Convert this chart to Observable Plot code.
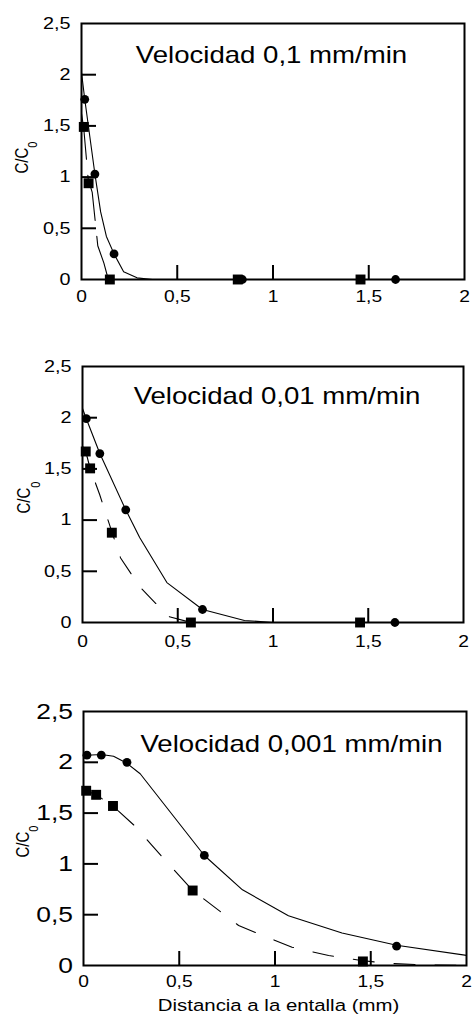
<!DOCTYPE html>
<html>
<head>
<meta charset="utf-8">
<script src="https://cdn.jsdelivr.net/npm/d3@7"></script>
<script src="https://cdn.jsdelivr.net/npm/@observablehq/plot@0.6"></script>
<style>
  html, body { margin: 0; padding: 0; background: #fff; }
  #chart svg { display: block; overflow: visible; }
</style>
</head>
<body>
<div id="chart"></div>
<script>
// ---- tick labels / text ----
const xTickLabels = [0, 0.5, 1, 1.5, 2];
const yTickLabels = [0, 0.5, 1, 1.5, 2, 2.5];
const xTickMarks = [0.5, 1, 1.5];
const yTickMarks = [0.5, 1, 1.5, 2];
const titles = ["Velocidad 0,1 mm/min", "Velocidad 0,01 mm/min", "Velocidad 0,001 mm/min"];
const xAxisTitle = "Distancia a la entalla (mm)";
const yAxisTitle = "C/C";
const yAxisSub = "0";

// ---- panel 1: 0,1 mm/min ----
const p1CircX = [0.017, 0.07, 0.17, 0.84, 1.64];
const p1CircY = [1.76, 1.03, 0.25, 0, 0];
const p1SqX = [0.012, 0.037, 0.148, 0.816, 1.457];
const p1SqY = [1.49, 0.94, 0, 0, 0];
const p1SolidX = [0, 0.017, 0.07, 0.1, 0.13, 0.17, 0.22, 0.29, 0.37];
const p1SolidY = [2.02, 1.76, 1.03, 0.66, 0.42, 0.25, 0.075, 0.016, 0.0];
const p1DashX = [0, 0.012, 0.035, 0.056, 0.085, 0.117, 0.14];
const p1DashY = [1.62, 1.47, 0.98, 0.85, 0.33, 0.16, 0.0];

// ---- panel 2: 0,01 mm/min ----
const p2CircX = [0.02, 0.091, 0.227, 0.63, 1.64];
const p2CircY = [1.99, 1.65, 1.10, 0.127, 0];
const p2SqX = [0.017, 0.04, 0.154, 0.569, 1.457];
const p2SqY = [1.67, 1.505, 0.877, 0, 0];
const p2SolidX = [0, 0.02, 0.091, 0.227, 0.30, 0.443, 0.63, 0.85, 1.0];
const p2SolidY = [2.09, 1.99, 1.65, 1.10, 0.83, 0.39, 0.127, 0.02, 0.0];
const p2DashX = [0, 0.017, 0.04, 0.09, 0.155, 0.2, 0.3, 0.45, 0.57];
const p2DashY = [1.72, 1.67, 1.505, 1.25, 0.88, 0.63, 0.35, 0.06, 0.0];

// ---- panel 3: 0,001 mm/min ----
const p3CircX = [0.018, 0.093, 0.227, 0.631, 1.635];
const p3CircY = [2.07, 2.07, 2.0, 1.083, 0.19];
const p3SqX = [0.014, 0.066, 0.154, 0.57, 1.459];
const p3SqY = [1.72, 1.68, 1.57, 0.738, 0.04];
const p3SolidX = [0, 0.018, 0.093, 0.157, 0.227, 0.296, 0.631, 0.83, 1.07, 1.35, 1.635, 2.0];
const p3SolidY = [2.07, 2.07, 2.077, 2.06, 1.99, 1.887, 1.083, 0.745, 0.49, 0.32, 0.2, 0.1];
const p3DashX = [0, 0.014, 0.066, 0.154, 0.27, 0.354, 0.444, 0.57, 0.81, 0.906, 0.993, 1.089, 1.28, 1.45, 1.6, 1.76, 2.0];
const p3DashY = [1.73, 1.72, 1.68, 1.57, 1.37, 1.19, 1.0, 0.738, 0.394, 0.318, 0.253, 0.18, 0.098, 0.049, 0.02, 0.007, 0.0];

const fmt = d => String(d).replace(".", ",");
const FONT = "'Liberation Sans', Arial, Helvetica, sans-serif";
const STRETCH = 1.2;
const W = 473;

const panels = [
  {title: titles[0], circX: p1CircX, circY: p1CircY, sqX: p1SqX, sqY: p1SqY,
   solidX: p1SolidX, solidY: p1SolidY, dashX: p1DashX, dashY: p1DashY,
   height: 330, mt: 23, mb: 51, ml: 81, mr: 9, yFont: 16.5, xFont: 16, yPad: 11, xPad: 11,
   titleDx: -1.5, titleDy: 39, labelDx: -54, labelDy: 6, dash: "46,16", xTitle: false},
  {title: titles[1], circX: p2CircX, circY: p2CircY, sqX: p2SqX, sqY: p2SqY,
   solidX: p2SolidX, solidY: p2SolidY, dashX: p2DashX, dashY: p2DashY,
   height: 340, mt: 36, mb: 48, ml: 82, mr: 10, yFont: 16.5, xFont: 16, yPad: 11, xPad: 13,
   titleDx: 4, titleDy: 37.5, labelDx: -52.5, labelDy: 3, dash: "20,19", xTitle: false},
  {title: titles[2], circX: p3CircX, circY: p3CircY, sqX: p3SqX, sqY: p3SqY,
   solidX: p3SolidX, solidY: p3SolidY, dashX: p3DashX, dashY: p3DashY,
   height: 344, mt: 41, mb: 49, ml: 83, mr: 7, yFont: 22, xFont: 16, yPad: 10.5, xPad: 10,
   titleDx: 16.5, titleDy: 40.5, labelDx: -55, labelDy: 3, dash: "21,20", xTitle: true}
];

function stretchText(svg, s) {
  svg.querySelectorAll("text").forEach(t => {
    const tr = t.getAttribute("transform");
    if (tr && /^translate\(/.test(tr)) {
      t.setAttribute("transform", tr.replace(/^(translate\([^)]*\))/, `$1 scale(${s},1)`));
    }
  });
}

const root = document.getElementById("chart");
for (const p of panels) {
  const fw = W - p.ml - p.mr;
  const fh = p.height - p.mt - p.mb;
  const marks = [
    Plot.line(p.solidY, {x: p.solidX, y: p.solidY, stroke: "black", strokeWidth: 1.1}),
    Plot.line(p.dashY, {x: p.dashX, y: p.dashY, stroke: "black", strokeWidth: 1.1, strokeDasharray: p.dash}),
    Plot.tickY(yTickMarks, {y: d => d, insetRight: fw - 15, stroke: "black", strokeWidth: 2}),
    Plot.tickX(xTickMarks, {x: d => d, insetTop: fh - 14, stroke: "black", strokeWidth: 2}),
    Plot.frame({stroke: "black", strokeWidth: 2}),
    Plot.axisY(yTickLabels, {tickSize: 0, tickPadding: p.yPad, tickFormat: fmt, fontSize: p.yFont, label: null}),
    Plot.axisX(xTickLabels, {tickSize: 0, tickPadding: p.xPad, tickFormat: fmt, fontSize: p.xFont, label: null}),
    Plot.dot(p.circY, {x: p.circX, y: p.circY, r: 4.4, fill: "black"}),
    Plot.dot(p.sqY, {x: p.sqX, y: p.sqY, r: 5.6, symbol: "square", fill: "black"}),
    Plot.text([p.title], {frameAnchor: "top", text: d => d, dx: p.titleDx, dy: p.titleDy,
      lineAnchor: "bottom", textAnchor: "middle", fontSize: 23, fill: "black"}),
    Plot.text([yAxisTitle], {frameAnchor: "left", text: d => d, dx: p.labelDx, dy: p.labelDy,
      rotate: -90, lineAnchor: "bottom", textAnchor: "middle", fontSize: 15, fill: "black"})
  ];
  if (p.xTitle) {
    marks.push(Plot.text([xAxisTitle], {frameAnchor: "bottom", text: d => d, dx: 3.5, dy: 45,
      lineAnchor: "bottom", textAnchor: "middle", fontSize: 17, fill: "black"}));
  }
  const svg = Plot.plot({
    width: W, height: p.height,
    marginTop: p.mt, marginBottom: p.mb, marginLeft: p.ml, marginRight: p.mr,
    x: {domain: [0, 2]},
    y: {domain: [0, 2.5]},
    style: {fontFamily: FONT, background: "white", color: "black", overflow: "visible"},
    marks
  });
  // subscript for C/C0
  svg.querySelectorAll("text").forEach(t => {
    if (t.textContent === yAxisTitle) {
      const sub = document.createElementNS("http://www.w3.org/2000/svg", "tspan");
      sub.setAttribute("dy", "8");
      sub.setAttribute("font-size", "11");
      sub.textContent = yAxisSub;
      t.appendChild(sub);
    }
  });
  stretchText(svg, STRETCH);
  root.appendChild(svg);
}
</script>
</body>
</html>
